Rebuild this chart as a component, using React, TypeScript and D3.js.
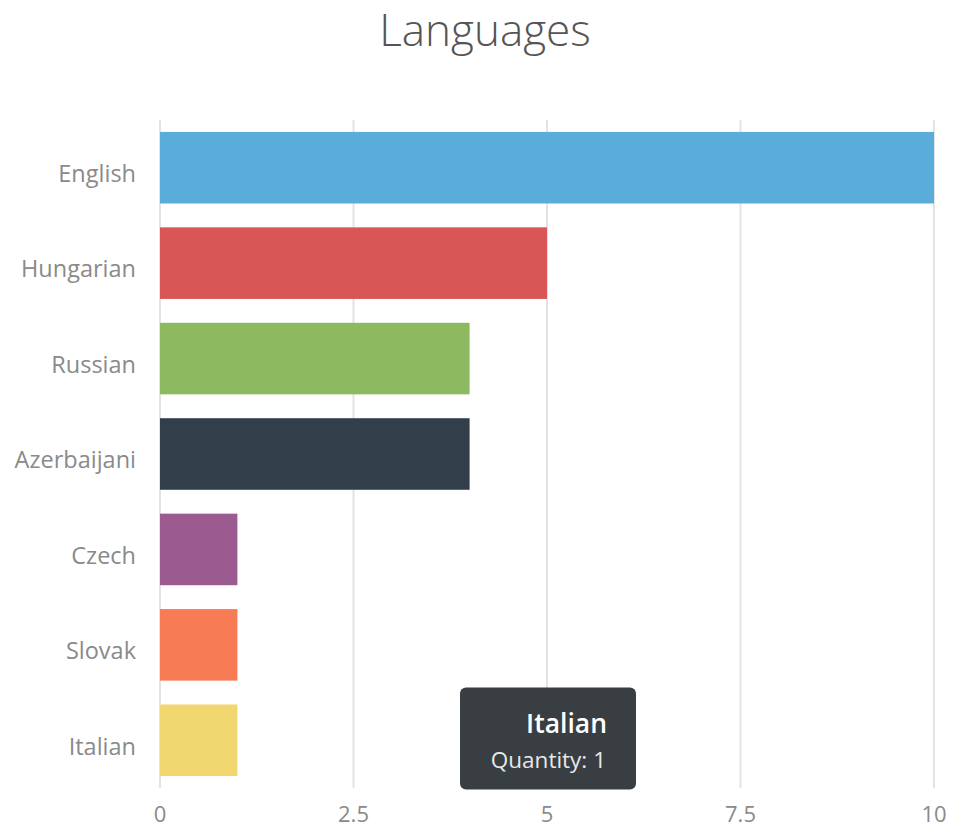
import { useEffect, useRef } from 'react';
import * as d3 from 'd3';

const languages = ['English', 'Hungarian', 'Russian', 'Azerbaijani', 'Czech', 'Slovak', 'Italian'];
const quantities = [10, 5, 4, 4, 1, 1, 1];
const barColours = ['#5AACDB', '#D95656', '#8DB960', '#323E4A', '#9B5B91', '#F77C55', '#F1D76F'];
const tickValues = [0, 2.5, 5, 7.5, 10];

const width = 954;
const height = 827;
const font = "'Open Sans', 'Noto Sans', sans-serif";

export default function App() {
  const svgRef = useRef<SVGSVGElement>(null);

  useEffect(() => {
    if (!svgRef.current) return;
    const svg = d3.select(svgRef.current);
    svg.selectAll('*').remove();

    const margin = { top: 120, right: 20, bottom: 39, left: 160 };
    const x = d3.scaleLinear().domain([0, 10]).range([margin.left, 934]);
    const y = d3
      .scaleBand<string>()
      .domain(languages)
      .range([margin.top, height - margin.bottom])
      .paddingInner(0.25)
      .paddingOuter(0.125);

    svg
      .append('text')
      .attr('x', 485)
      .attr('y', 46)
      .attr('text-anchor', 'middle')
      .attr('fill', '#555')
      .attr('font-size', 44)
      .attr('font-weight', 300)
      .attr('font-family', font)
      .text('Languages');

    // grid
    svg
      .append('g')
      .selectAll('line')
      .data(tickValues)
      .join('line')
      .attr('x1', (d) => x(d))
      .attr('x2', (d) => x(d))
      .attr('y1', margin.top)
      .attr('y2', height - margin.bottom)
      .attr('stroke', '#e3e3e3')
      .attr('stroke-width', 2);

    svg
      .append('g')
      .selectAll('text')
      .data(tickValues)
      .join('text')
      .attr('x', (d) => x(d))
      .attr('y', 822)
      .attr('text-anchor', 'middle')
      .attr('fill', '#8a8a8a')
      .attr('font-size', 22)
      .attr('font-family', font)
      .text((d) => String(d));

    svg
      .append('g')
      .selectAll('rect')
      .data(languages)
      .join('rect')
      .attr('x', x(0))
      .attr('y', (d) => y(d)!)
      .attr('width', (_, i) => x(quantities[i]) - x(0))
      .attr('height', y.bandwidth())
      .attr('fill', (_, i) => barColours[i]);

    svg
      .append('g')
      .selectAll('text')
      .data(languages)
      .join('text')
      .attr('x', 136)
      .attr('y', (d) => y(d)! + y.bandwidth() / 2 + 6)
      .attr('dy', '0.35em')
      .attr('text-anchor', 'end')
      .attr('fill', '#8a8a8a')
      .attr('font-size', 23.5)
      .attr('font-family', font)
      .text((d) => d);

    // tooltip for Italian
    const last = languages.length - 1;
    const tipY = y(languages[last])! - 17;
    const tip = svg.append('g').attr('transform', `translate(460,${tipY})`);
    tip
      .append('rect')
      .attr('width', 176)
      .attr('height', 102)
      .attr('rx', 6)
      .attr('fill', '#393E42');
    tip
      .append('text')
      .attr('x', 147)
      .attr('y', 45)
      .attr('text-anchor', 'end')
      .attr('fill', '#fff')
      .attr('font-size', 26.5)
      .attr('font-weight', 600)
      .attr('font-family', font)
      .text(languages[last]);
    tip
      .append('text')
      .attr('x', 146)
      .attr('y', 80)
      .attr('text-anchor', 'end')
      .attr('fill', '#e8e8e8')
      .attr('font-size', 22.5)
      .attr('font-family', font)
      .text(`Quantity: ${quantities[last]}`);
  }, []);

  return (
    <div style={{ position: 'absolute', left: 0, top: 0 }}>
      <svg ref={svgRef} width={width} height={height} viewBox={`0 0 ${width} ${height}`} />
    </div>
  );
}
